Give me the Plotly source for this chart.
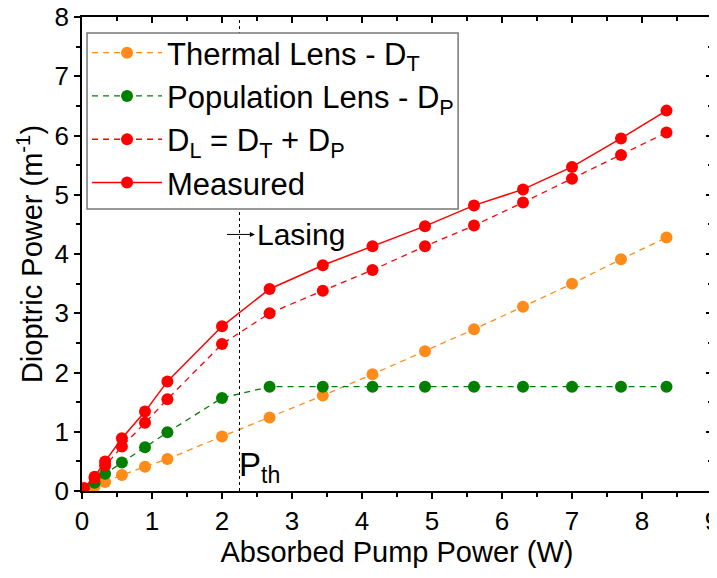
import plotly.graph_objects as go

x_all = [0.18, 0.33, 0.57, 0.90, 1.22, 2.00, 2.68, 3.44, 4.15, 4.90, 5.60, 6.30, 7.00, 7.70, 8.35]
thermal = [0.08, 0.15, 0.27, 0.41, 0.54, 0.92, 1.24, 1.61, 1.97, 2.36, 2.73, 3.11, 3.50, 3.91, 4.28]
population = [0.14, 0.29, 0.48, 0.74, 0.99, 1.57, 1.76, 1.76, 1.76, 1.76, 1.76, 1.76, 1.76, 1.76, 1.76]
dl_sum = [0.22, 0.43, 0.75, 1.15, 1.55, 2.48, 3.00, 3.38, 3.73, 4.13, 4.48, 4.87, 5.27, 5.67, 6.05]
x_meas = [0.03] + x_all
measured = [0.05, 0.24, 0.50, 0.89, 1.34, 1.85, 2.78, 3.41, 3.81, 4.13, 4.47, 4.82, 5.09, 5.47, 5.95, 6.42]

p_th = 2.25
lasing_y = 4.33

ORANGE = "#FF8C1A"
GREEN = "#008000"
RED = "#FF0000"
FONT = "Liberation Sans, Arial, sans-serif"

fig = go.Figure()
dash = "6px,5px"
fig.add_trace(go.Scatter(x=x_all, y=thermal, mode="lines+markers", name="Thermal Lens - D<sub>T</sub>",
                         line=dict(color=ORANGE, width=1.3, dash=dash), marker=dict(color=ORANGE, size=12)))
fig.add_trace(go.Scatter(x=x_all, y=population, mode="lines+markers", name="Population Lens - D<sub>P</sub>",
                         line=dict(color=GREEN, width=1.3, dash=dash), marker=dict(color=GREEN, size=12)))
fig.add_trace(go.Scatter(x=x_all, y=dl_sum, mode="lines+markers", name="D<sub>L</sub> = D<sub>T</sub> + D<sub>P</sub>",
                         line=dict(color=RED, width=1.3, dash=dash), marker=dict(color=RED, size=12)))
fig.add_trace(go.Scatter(x=x_meas, y=measured, mode="lines+markers", name="Measured",
                         line=dict(color=RED, width=1.5), marker=dict(color=RED, size=12)))

fig.add_shape(type="line", x0=p_th, x1=p_th, y0=0, y1=8, xref="x", yref="y",
              line=dict(color="black", width=1, dash="3px,3px"))
# legend frame
fig.add_shape(type="rect", xref="paper", yref="paper", x0=0.008, x1=0.597, y0=0.595, y1=0.966,
              line=dict(color="#777777", width=1.5), fillcolor="white", layer="above")

fig.add_annotation(x=2.47, y=lasing_y, ax=2.05, ay=lasing_y, xref="x", yref="y", axref="x", ayref="y",
                   showarrow=True, arrowhead=2, arrowsize=1, arrowwidth=1, arrowcolor="black", text="")
fig.add_annotation(x=2.47, y=lasing_y, xref="x", yref="y", text="Lasing", showarrow=False,
                   xanchor="left", yanchor="middle", font=dict(size=30, color="black", family=FONT))
fig.add_annotation(x=2.22, y=0.41, xref="x", yref="y", text="P<sub>th</sub>", showarrow=False,
                   xanchor="left", yanchor="middle", font=dict(size=33, color="black", family=FONT))

axis_common = dict(showgrid=False, zeroline=False, showline=True, linecolor="black", linewidth=1.5,
                   tickcolor="black", tickwidth=1.5, ticklen=6, automargin=False,
                   ticklabeloverflow="allow",
                   tickfont=dict(size=26, family=FONT, color="black"))

fig.update_xaxes(range=[0, 9], dtick=1, ticks="outside",
                 minor=dict(dtick=0.5, ticks="outside", ticklen=4, tickcolor="black", tickwidth=1.5),
                 title=dict(text="Absorbed Pump Power (W)", font=dict(size=29, family=FONT, color="black"), standoff=5),
                 **axis_common)
fig.update_yaxes(range=[0, 8], dtick=1, ticks="outside",
                 minor=dict(dtick=0.5, ticks="outside", ticklen=4, tickcolor="black", tickwidth=1.5),
                 title=dict(text="Dioptric Power (m<sup>-1</sup>)", font=dict(size=29, family=FONT, color="black"), standoff=3),
                 **axis_common)

fig.update_layout(
    xaxis2=dict(overlaying="x", side="top", matches="x", range=[0, 9], dtick=1, ticks="inside",
                showticklabels=False, showline=True, linecolor="black", linewidth=1.5, showgrid=False,
                zeroline=False, tickcolor="black", tickwidth=1.5, ticklen=6, automargin=False,
                minor=dict(dtick=0.5, ticks="inside", ticklen=4, tickcolor="black", tickwidth=1.5)),
    yaxis2=dict(overlaying="y", side="right", matches="y", range=[0, 8], dtick=1, ticks="inside",
                showticklabels=False, showline=True, linecolor="black", linewidth=1.5, showgrid=False,
                zeroline=False, tickcolor="black", tickwidth=1.5, ticklen=6, automargin=False,
                minor=dict(dtick=0.5, ticks="inside", ticklen=4, tickcolor="black", tickwidth=1.5)),
)
fig.add_trace(go.Scatter(x=[0], y=[0], xaxis="x2", yaxis="y2", mode="markers",
                         marker=dict(opacity=0), showlegend=False, hoverinfo="skip"))

fig.update_layout(
    width=709, height=570,
    margin=dict(l=74, r=5, t=9, b=87, autoexpand=False),
    plot_bgcolor="white", paper_bgcolor="white",
    font=dict(family=FONT, color="black"),
    legend=dict(x=0.008, y=0.981, xanchor="left", yanchor="top",
                borderwidth=0, bgcolor="rgba(0,0,0,0)",
                font=dict(size=31, family=FONT, color="black"),
                itemwidth=70, tracegroupgap=0),
    showlegend=True,
)

fig.write_html("out.html")
